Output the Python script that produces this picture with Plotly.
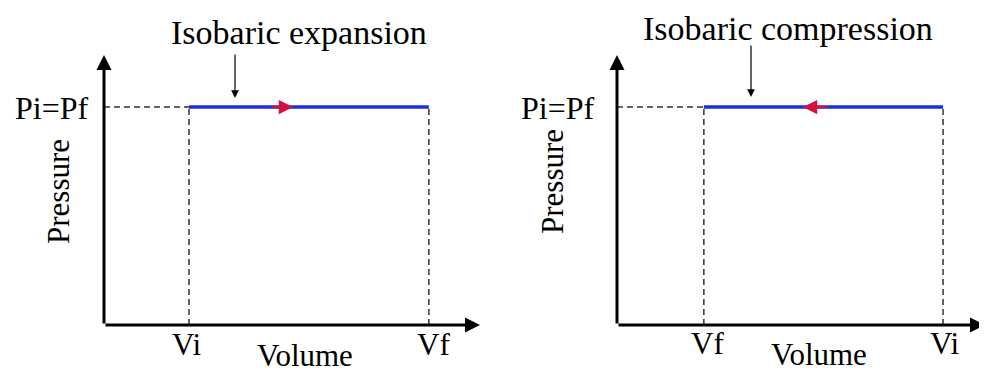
import plotly.graph_objects as go

# process data (arbitrary units)
panel_titles = ['Isobaric expansion', 'Isobaric compression']
vol_start = [2.26, 8.86]      # Vi
vol_end = [8.64, 2.36]        # Vf
pressure = [8.07, 8.07]       # Pi = Pf
arrow_tail = [4.41, 5.73]
arrow_tip = [5.03, 5.05]
vol_labels = [['Vi', 'Vf'], ['Vi', 'Vf']]
p_label = 'Pi=Pf'

# page body has an 8px margin, so the figure is drawn 8px smaller and offset
OFF = 8
W, H = 987 - OFF, 374 - OFF
FONT = 'Liberation Serif'


def px(x):
    return (x - OFF) / W


def py(y):
    return 1 - (y - OFF) / H


fig = go.Figure()

# axis boxes in screen pixels: left, right, bottom, top
boxes = [(104, 480, 325, 55), (617, 985, 325, 55)]

for i in range(2):
    xa = 'x' if i == 0 else 'x2'
    ya = 'y' if i == 0 else 'y2'
    lo, hi = min(vol_start[i], vol_end[i]), max(vol_start[i], vol_end[i])
    p = pressure[i]

    # dashed guides
    fig.add_trace(go.Scatter(x=[0, lo], y=[p, p], mode='lines', xaxis=xa, yaxis=ya,
                             line=dict(color='#333', width=1.5, dash='6px,4px')))
    for v in (lo, hi):
        fig.add_trace(go.Scatter(x=[v, v], y=[0, p], mode='lines', xaxis=xa, yaxis=ya,
                                 line=dict(color='#333', width=1.5, dash='6px,4px')))
    # process line
    fig.add_trace(go.Scatter(x=[vol_start[i], vol_end[i]], y=[p, p], mode='lines',
                             xaxis=xa, yaxis=ya, line=dict(color='#1e2ee0', width=3.5)))
    # direction arrow
    fig.add_annotation(x=arrow_tip[i], y=p, ax=arrow_tail[i], ay=p, xref=xa, yref=ya,
                       axref=xa, ayref=ya, text='', showarrow=True, arrowhead=2,
                       arrowsize=1.15, arrowwidth=2.5, arrowcolor='#d41040')
    # axes with arrowheads
    fig.add_annotation(x=10, y=0, ax=0, ay=0, xref=xa, yref=ya, axref=xa, ayref=ya,
                       text='', showarrow=True, arrowhead=2, arrowsize=1, arrowwidth=3,
                       arrowcolor='black', standoff=0)
    fig.add_annotation(x=0, y=10, ax=0, ay=0, xref=xa, yref=ya, axref=xa, ayref=ya,
                       text='', showarrow=True, arrowhead=2, arrowsize=1, arrowwidth=3,
                       arrowcolor='black', standoff=0)

# text labels (screen pixel positions)
labels = [
    (panel_titles[0], 299, 33, 34),
    (panel_titles[1], 788, 29, 34),
    (p_label, 52, 108, 32),
    (p_label, 558, 108, 32),
    (vol_labels[0][0], 187, 344, 31),
    (vol_labels[0][1], 433, 344, 31),
    (vol_labels[1][1], 707, 343, 31),
    (vol_labels[1][0], 945, 343, 31),
    ('Volume', 305, 355, 31),
    ('Volume', 819, 354, 31),
]
for t, x, y, s in labels:
    fig.add_annotation(x=px(x), y=py(y), xref='paper', yref='paper', text=t,
                       showarrow=False, xanchor='center', yanchor='middle',
                       font=dict(family=FONT, size=s, color='black'))
for x, y in [(58, 192), (552, 182)]:
    fig.add_annotation(x=px(x), y=py(y), xref='paper', yref='paper', text='Pressure',
                       showarrow=False, textangle=-90, xanchor='center', yanchor='middle',
                       font=dict(family=FONT, size=31, color='black'))

# pointer arrows from titles
for x, y0, y1 in [(235, 53, 98), (751, 44, 97)]:
    fig.add_annotation(x=px(x), y=py(y1), ax=0, ay=-(y1 - y0), xref='paper', yref='paper',
                       text='', showarrow=True,
                       arrowhead=2, arrowsize=1.3, arrowwidth=1.2, arrowcolor='black')

b0, b1 = boxes
fig.update_layout(
    width=W, height=H, margin=dict(l=0, r=0, t=0, b=0),
    paper_bgcolor='white', plot_bgcolor='white', showlegend=False,
    xaxis=dict(domain=[px(b0[0]), px(b0[1])], range=[0, 10], visible=False),
    yaxis=dict(domain=[py(b0[2]), py(b0[3])], range=[0, 10], visible=False),
    xaxis2=dict(domain=[px(b1[0]), px(b1[1])], range=[0, 10], visible=False),
    yaxis2=dict(domain=[py(b1[2]), py(b1[3])], range=[0, 10], visible=False, anchor='x2'),
)

fig.write_html('out.html')
